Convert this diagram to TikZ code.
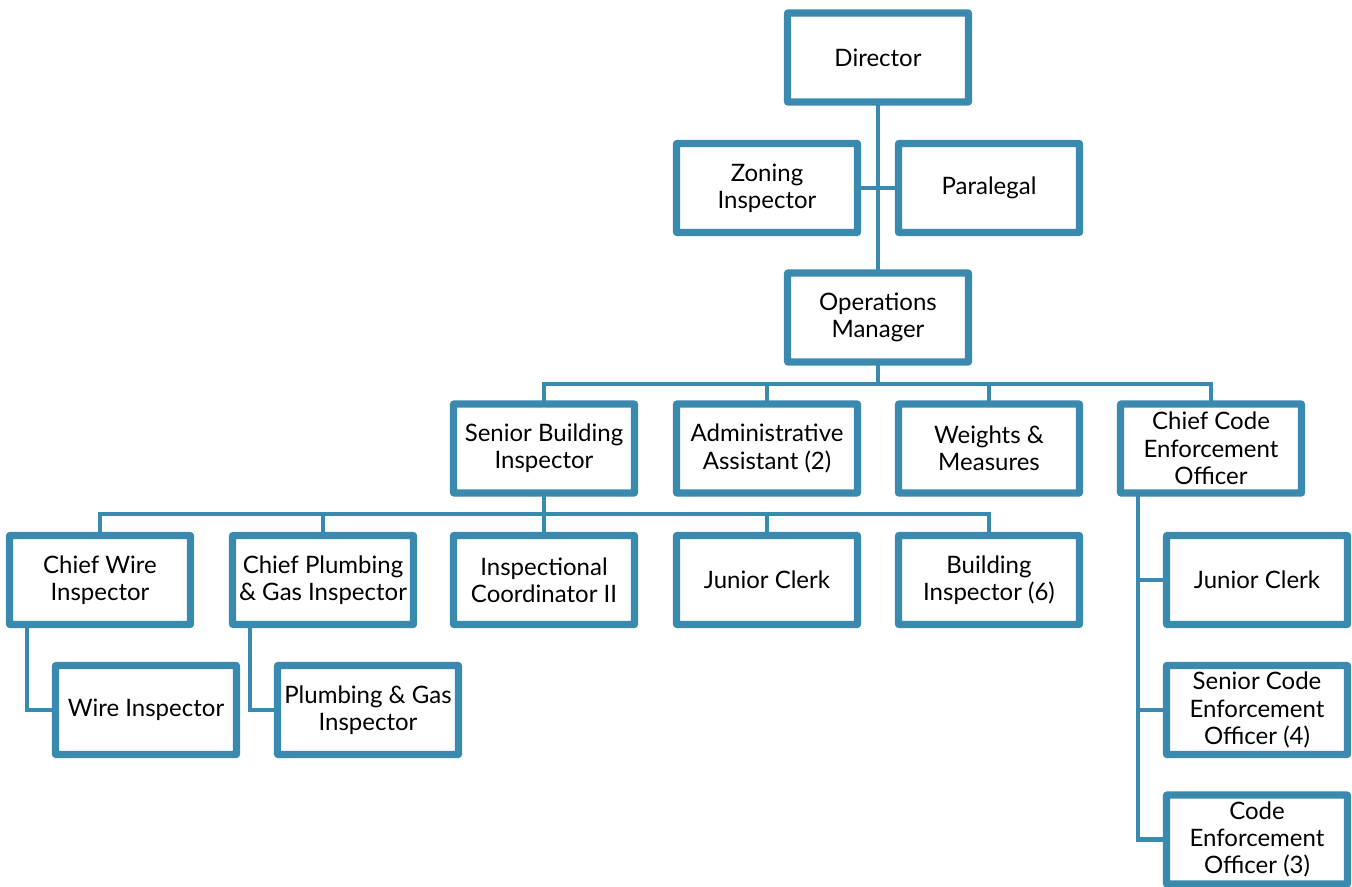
\documentclass[tikz,border=0pt]{standalone}
\usepackage{fontspec}
\setmainfont{Lato}
\usetikzlibrary{positioning}
\definecolor{orgblue}{HTML}{3A89AE}

\begin{document}
\begin{tikzpicture}[
  x=0.75pt, y=-0.75pt,
  box/.style={draw=orgblue, line width=3.6pt, rounded corners=1.5pt, fill=white,
    align=center, minimum width=134pt, minimum height=65pt, inner sep=1pt,
    font=\fontsize{18}{20.5}\selectfont},
  link/.style={draw=orgblue, line width=3.4pt}
]
\useasboundingbox (0,0) rectangle (1352,887);

% top of the chart
\node[box] (director) at (878,57.5) {Director};
\node[box] (zoning) at (767,188) {Zoning\\Inspector};
\node[box] (paralegal) at (989,188) {Paralegal};
\node[box] (ops) at (878,317.5) {Operations\\Manager};

% direct reports of the operations manager
\node[box] (senior) at (544,448.5) {Senior Building\\Inspector};
\node[box] (admin) at (767,448.5) {Administrative\\Assistant (2)};
\node[box] (weights) at (989,448.5) {Weights \&\\Measures};
\node[box] (chiefcode) at (1211,448.5) {Chief Code\\Enforcement\\Officer};

% building side
\node[box] (chiefwire) at (100,580) {Chief Wire\\Inspector};
\node[box] (chiefplumb) at (323,580) {Chief Plumbing\\\& Gas Inspector};
\node[box] (coord) at (544,580) {Inspectional\\Coordinator II};
\node[box] (clerk) at (767,580) {Junior Clerk};
\node[box] (building) at (989,580) {Building\\Inspector (6)};
\node[box] (wire) at (146,710) {Wire Inspector};
\node[box] (plumb) at (368,710) {Plumbing \& Gas\\Inspector};

% code enforcement side
\node[box] (codeclerk) at (1257,580) {Junior Clerk};
\node[box] (seniorcode) at (1257,710) {Senior Code\\Enforcement\\Officer (4)};
\node[box] (code) at (1257,839.5) {Code\\Enforcement\\Officer (3)};

\coordinate (opsbus) at (878,384);
\coordinate (seniorbus) at (544,514);
\coordinate (wirebus) at (27,626);
\coordinate (plumbbus) at (250,626);
\coordinate (codebus) at (1138,494);

\draw[link] (director) -- (ops);
\draw[link] (zoning.east) -- (paralegal.west);
\draw[link] (ops) -- (opsbus);
\foreach \n in {senior,admin,weights,chiefcode}
  \draw[link] (\n.north) |- (opsbus);
\draw[link] (senior) -- (seniorbus);
\foreach \n in {chiefwire,chiefplumb,coord,clerk,building}
  \draw[link] (\n.north) |- (seniorbus);
\draw[link] (wirebus) |- (wire.west);
\draw[link] (plumbbus) |- (plumb.west);
\draw[link] (codebus) |- (code.west);
\draw[link] (codebus |- codeclerk) -- (codeclerk.west);
\draw[link] (codebus |- seniorcode) -- (seniorcode.west);

% boxes again on top of the links
\foreach \n in {director,zoning,paralegal,ops,senior,admin,weights,chiefcode,
  chiefwire,chiefplumb,coord,clerk,building,wire,plumb,codeclerk,seniorcode,code}
  \draw[draw=orgblue, line width=3.6pt, rounded corners=1.5pt]
    (\n.south west) rectangle (\n.north east);
\end{tikzpicture}
\end{document}
